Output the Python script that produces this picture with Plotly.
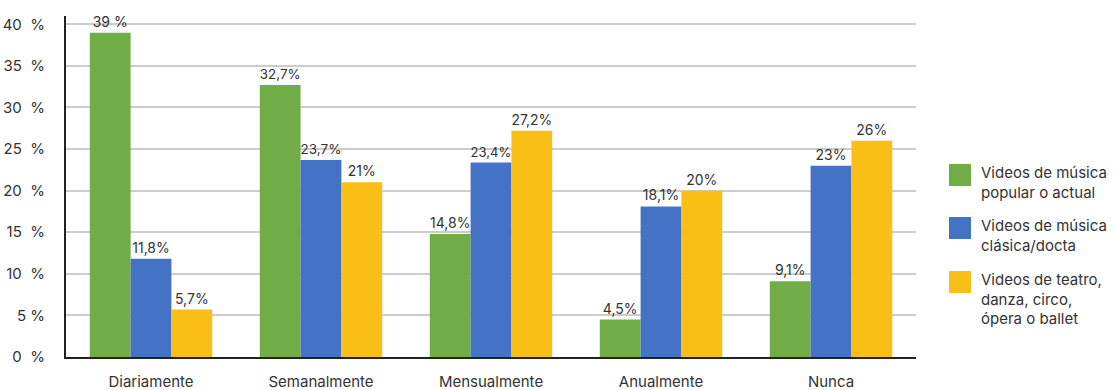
import plotly.graph_objects as go

categories = ["Diariamente", "Semanalmente", "Mensualmente", "Anualmente", "Nunca"]
series_names = ["Videos de música<br>popular o actual",
                "Videos de música<br>clásica/docta",
                "Videos de teatro,<br>danza, circo,<br>ópera o ballet"]
popular = [39, 32.7, 14.8, 4.5, 9.1]
clasica = [11.8, 23.7, 23.4, 18.1, 23]
teatro = [5.7, 21, 27.2, 20, 26]
popular_labels = ["39 %", "32,7%", "14,8%", "4,5%", "9,1%"]
clasica_labels = ["11,8%", "23,7%", "23,4%", "18,1%", "23%"]
teatro_labels = ["5,7%", "21%", "27,2%", "20%", "26%"]
tick_vals = [0, 5, 10, 15, 20, 25, 30, 35, 40]
tick_text = ["0\u00a0\u00a0%", "5 %", "10\u00a0\u00a0%", "15\u00a0\u00a0%", "20\u00a0\u00a0%",
             "25\u00a0\u00a0%", "30\u00a0\u00a0%", "35\u00a0\u00a0%", "40\u00a0\u00a0%"]
colors = ["#70AD47", "#4472C4", "#F9BF16"]

FONT = "Inter"
W, H = 1117, 390
L, R, T, B = 66, 201, 16, 33
pw, ph = W - L - R, H - T - B

fig = go.Figure()
for vals, labs, col, name in zip([popular, clasica, teatro],
                                 [popular_labels, clasica_labels, teatro_labels],
                                 colors, series_names):
    fig.add_trace(go.Bar(x=categories, y=vals, text=labs, name=name,
                         marker=dict(color=col, line=dict(width=0)),
                         textposition="outside", cliponaxis=False,
                         textfont=dict(family=FONT, size=14, color="#333333"),
                         showlegend=False))

def px_x(x):
    return (x - L) / pw

def px_y(y):
    return (H - B - y) / ph

shapes = []
annotations = []
sq_tops = [164, 217, 271]
for col, name, top in zip(colors, series_names, sq_tops):
    shapes.append(dict(type="rect", xref="paper", yref="paper",
                       x0=px_x(949), x1=px_x(971), y0=px_y(top + 22), y1=px_y(top),
                       fillcolor=col, line=dict(width=0)))
    annotations.append(dict(xref="paper", yref="paper", x=px_x(979), y=px_y(top - 3),
                            xanchor="left", yanchor="top", align="left",
                            text=name, showarrow=False,
                            font=dict(family=FONT, size=15, color="#333333")))

fig.update_layout(
    width=W, height=H,
    margin=dict(l=L, r=R, t=T, b=B, pad=0, autoexpand=False),
    paper_bgcolor="white", plot_bgcolor="white",
    barmode="group", bargap=0.28, bargroupgap=0,
    font=dict(family=FONT, size=14, color="#333333"),
    shapes=shapes, annotations=annotations,
    xaxis=dict(showline=True, linecolor="#222222", linewidth=2,
               showgrid=False, ticks="", range=[-0.5, 4.5],
               ticklabelstandoff=10, automargin=False,
               tickfont=dict(family=FONT, size=15, color="#333333")),
    yaxis=dict(range=[0, 41], tickvals=tick_vals, ticktext=tick_text,
               showline=True, linecolor="#222222", linewidth=2,
               showgrid=True, gridcolor="#cccccc", gridwidth=1.5,
               zeroline=False, ticks="", ticklabelstandoff=16, automargin=False,
               tickfont=dict(family=FONT, size=15, color="#333333")),
)

fig.write_html("out.html")
